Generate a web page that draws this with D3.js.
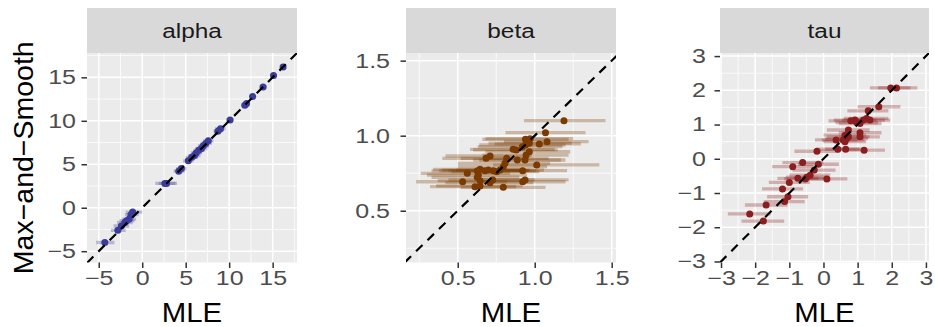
<!DOCTYPE html>
<html>
<head>
<meta charset="utf-8">
<script src="https://cdn.jsdelivr.net/npm/d3@7"></script>
<style>
    body { margin: 0; background: #fff; }
    text { font-family: "Liberation Sans", Arial, sans-serif; }
</style>
</head>
<body>
<svg width="935" height="327"></svg>
<script>
// alpha: MLE, Max-and-Smooth estimate, interval ends
const alphaMle = [-4.3, -2.8, -2.4, -2.0, -1.8, -1.5, -1.3, -1.1, 2.6, 2.8, 4.2, 4.5, 5.3, 5.7, 6.0, 6.2, 6.5, 6.8, 7.0, 7.3, 7.6, 8.7, 9.0, 10.1, 11.8, 12.0, 12.7, 13.9, 15.1, 16.2];
const alphaMs  = [-4.0, -2.6, -2.1, -1.7, -1.5, -1.3, -0.8, -0.5, 2.8, 2.8, 4.2, 4.5, 5.4, 5.8, 6.0, 6.3, 6.6, 6.8, 7.1, 7.4, 7.7, 8.8, 9.1, 10.1, 11.8, 12.0, 12.8, 13.9, 15.2, 16.2];
const alphaLo  = [-5.3, -3.6, -3.3, -2.9, -2.6, -2.3, -2.0, -1.9, 1.5, 1.9, 3.6, 3.9, 4.7, 5.0, 5.3, 5.6, 5.9, 6.1, 6.4, 6.7, 7.0, 8.2, 8.4, 9.7, 11.4, 11.6, 12.3, 13.5, 14.8, 15.9];
const alphaHi  = [-3.2, -1.9, -1.5, -1.1, -0.9, -0.7, -0.4, 0.0, 4.0, 3.8, 4.9, 5.1, 5.9, 6.4, 6.7, 6.9, 7.2, 7.5, 7.7, 8.0, 8.2, 9.2, 9.6, 10.5, 12.2, 12.4, 13.1, 14.3, 15.5, 16.5];

// beta
const betaMle = [1.19, 1.07, 1.08, 1.03, 0.97, 0.94, 0.965, 0.94, 0.92, 0.88, 0.86, 0.965, 0.944, 0.937, 0.887, 1.013, 0.922, 0.818, 0.807, 0.796, 0.71, 0.684, 0.775, 0.753, 0.731, 0.699, 0.677, 0.645, 0.627, 0.562, 0.532, 0.627, 0.612, 0.645, 0.71, 0.727, 0.796, 0.922, 0.937, 0.634, 0.645];
const betaMs  = [1.10, 1.02, 0.96, 0.945, 0.98, 0.976, 0.95, 0.938, 0.927, 0.905, 0.909, 0.893, 0.871, 0.838, 0.838, 0.805, 0.767, 0.849, 0.816, 0.793, 0.865, 0.849, 0.771, 0.76, 0.767, 0.771, 0.767, 0.776, 0.765, 0.749, 0.693, 0.723, 0.66, 0.665, 0.687, 0.705, 0.656, 0.693, 0.705, 0.738, 0.70];
const betaLo  = [0.93, 0.81, 0.80, 0.74, 0.68, 0.66, 0.70, 0.64, 0.63, 0.60, 0.58, 0.68, 0.66, 0.64, 0.60, 0.73, 0.62, 0.52, 0.50, 0.50, 0.42, 0.40, 0.49, 0.46, 0.44, 0.40, 0.38, 0.34, 0.33, 0.26, 0.23, 0.33, 0.32, 0.36, 0.42, 0.44, 0.52, 0.64, 0.66, 0.30, 0.37];
const betaHi  = [1.46, 1.33, 1.35, 1.30, 1.25, 1.22, 1.24, 1.20, 1.18, 1.15, 1.13, 1.23, 1.22, 1.20, 1.17, 1.42, 1.21, 1.09, 1.10, 1.08, 0.98, 0.96, 1.06, 1.03, 1.01, 0.97, 0.96, 0.93, 0.91, 0.84, 0.82, 0.90, 0.88, 0.92, 0.99, 1.00, 1.07, 1.20, 1.22, 0.95, 0.92];

// tau
const tauMle = [1.97, 2.14, 1.62, 1.31, 1.26, 1.36, 1.17, 0.80, 0.92, 0.97, 1.07, 0.73, 1.07, 1.07, 0.63, 0.68, 0.58, 0.63, 0.73, 0.37, 0.42, 0.65, 1.19, -0.19, -0.61, -0.90, -0.15, -0.27, -0.39, -0.49, -0.53, -0.75, 0.10, -1.0, -1.2, -1.04, -1.14, -1.68, -2.16, -1.76];
const tauMs  = [2.07, 2.07, 1.52, 1.40, 1.18, 1.13, 1.13, 1.11, 1.13, 1.06, 1.03, 0.84, 0.76, 0.64, 0.69, 0.59, 0.55, 0.50, 0.64, 0.55, 0.28, 0.28, 0.25, 0.22, -0.11, -0.23, -0.16, -0.33, -0.48, -0.54, -0.59, -0.57, -0.59, -0.69, -0.88, -1.11, -1.25, -1.35, -1.61, -1.82];
const tauLo  = [1.36, 1.60, 1.00, 0.70, 0.60, 0.75, 0.55, 0.15, 0.30, 0.35, 0.45, 0.10, 0.45, 0.45, 0.00, 0.05, -0.05, 0.00, 0.10, -0.25, -0.20, 0.05, 0.55, -0.85, -1.20, -1.50, -0.75, -0.90, -1.00, -1.10, -1.15, -1.35, -0.50, -1.60, -1.80, -1.65, -1.75, -2.30, -2.80, -2.40];
const tauHi  = [2.55, 2.75, 2.25, 1.90, 1.90, 1.95, 1.80, 1.45, 1.55, 1.60, 1.70, 1.35, 1.70, 1.65, 1.25, 1.30, 1.20, 1.25, 1.35, 1.00, 1.05, 1.25, 1.80, 0.45, 0.00, -0.30, 0.45, 0.35, 0.20, 0.10, 0.05, -0.15, 0.70, -0.40, -0.60, -0.45, -0.55, -1.05, -1.55, -1.15];

const alphaTicks = [-5, 0, 5, 10, 15];
const betaTicks = [0.5, 1.0, 1.5];
const tauTicks = [-3, -2, -1, 0, 1, 2, 3];

const zip = (mle, ms, lo, hi) => mle.map((m, i) => ({mle: m, ms: ms[i], lo: lo[i], hi: hi[i]}));

const panels = [
    {label: 'alpha', data: zip(alphaMle, alphaMs, alphaLo, alphaHi), x0: 87, x1: 297, yPad: 5.5,
        xDomain: [-6.35, 17.8], yDomain: [-6.3, 17.8], ticks: alphaTicks, minor: [-2.5, 2.5, 7.5, 12.5, 17.5],
        fmt: d3.format('d'), color: '#3b3b98'},
    {label: 'beta', data: zip(betaMle, betaMs, betaLo, betaHi), x0: 406, x1: 616, yPad: 10.5,
        xDomain: [0.164, 1.528], yDomain: [0.155, 1.551], ticks: betaTicks, minor: [0.25, 0.75, 1.25],
        fmt: d3.format('.1f'), color: '#7a3a00'},
    {label: 'tau', data: zip(tauMle, tauMs, tauLo, tauHi), x0: 720, x1: 929, yPad: 8.5,
        xDomain: [-3.03, 3.09], yDomain: [-3.03, 3.09], ticks: tauTicks, minor: [-2.5, -1.5, -0.5, 0.5, 1.5, 2.5],
        fmt: d3.format('d'), color: '#8b1e1e'}
];

const svg = d3.select('svg');
const panelTop = 53, panelBottom = 262.5, stripTop = 8;
const tickFont = 20, wide = 1.25;   // labels in the source are drawn a bit wider than plain Arial

svg.append('defs').selectAll('clipPath')
    .data(panels)
    .enter().append('clipPath')
    .attr('id', (d, i) => 'clip' + i)
    .append('rect')
    .attr('x', d => d.x0)
    .attr('y', panelTop)
    .attr('width', d => d.x1 - d.x0)
    .attr('height', panelBottom - panelTop);

panels.forEach((p, i) => {
    const x = d3.scaleLinear().domain(p.xDomain).range([p.x0, p.x1]);
    const y = d3.scaleLinear().domain(p.yDomain).range([panelBottom, panelTop]);
    const g = svg.append('g');

    // strip
    g.append('rect')
        .attr('x', p.x0).attr('y', stripTop)
        .attr('width', p.x1 - p.x0).attr('height', panelTop - stripTop)
        .attr('fill', '#d9d9d9');
    g.append('text')
        .attr('transform', `translate(${(p.x0 + p.x1) / 2},38) scale(${wide},1)`)
        .attr('text-anchor', 'middle')
        .attr('font-size', 19.5)
        .attr('fill', '#1a1a1a')
        .text(p.label);

    // panel background + grid
    g.append('rect')
        .attr('x', p.x0).attr('y', panelTop)
        .attr('width', p.x1 - p.x0).attr('height', panelBottom - panelTop)
        .attr('fill', '#ebebeb');

    const minorX = p.minor.filter(v => v > p.xDomain[0] && v < p.xDomain[1]);
    const minorY = p.minor.filter(v => v > p.yDomain[0] && v < p.yDomain[1]);
    const grid = g.append('g').attr('stroke', '#fff');
    grid.selectAll('.mx').data(minorX).enter().append('line')
        .attr('x1', d => x(d)).attr('x2', d => x(d))
        .attr('y1', panelTop).attr('y2', panelBottom)
        .attr('stroke-width', 0.75);
    grid.selectAll('.my').data(minorY).enter().append('line')
        .attr('x1', p.x0).attr('x2', p.x1)
        .attr('y1', d => y(d)).attr('y2', d => y(d))
        .attr('stroke-width', 0.75);
    grid.selectAll('.gx').data(p.ticks).enter().append('line')
        .attr('x1', d => x(d)).attr('x2', d => x(d))
        .attr('y1', panelTop).attr('y2', panelBottom)
        .attr('stroke-width', 1.5);
    grid.selectAll('.gy').data(p.ticks).enter().append('line')
        .attr('x1', p.x0).attr('x2', p.x1)
        .attr('y1', d => y(d)).attr('y2', d => y(d))
        .attr('stroke-width', 1.5);

    const plot = g.append('g').attr('clip-path', 'url(#clip' + i + ')');

    // horizontal intervals
    plot.selectAll('.bar')
        .data(p.data)
        .enter().append('line')
        .attr('x1', d => x(d.lo)).attr('x2', d => x(d.hi))
        .attr('y1', d => y(d.ms)).attr('y2', d => y(d.ms))
        .attr('stroke', p.color)
        .attr('stroke-width', 3.3)
        .attr('stroke-opacity', 0.3);

    // points
    plot.selectAll('circle')
        .data(p.data)
        .enter().append('circle')
        .attr('cx', d => x(d.mle))
        .attr('cy', d => y(d.ms))
        .attr('r', 3.5)
        .attr('fill', p.color);

    // identity line
    const lo = Math.min(p.xDomain[0], p.yDomain[0]), hi = Math.max(p.xDomain[1], p.yDomain[1]);
    plot.append('line')
        .attr('x1', x(lo)).attr('y1', y(lo))
        .attr('x2', x(hi)).attr('y2', y(hi))
        .attr('stroke', '#000')
        .attr('stroke-width', 2.2)
        .attr('stroke-dasharray', '9,7');

    // axes
    const xAxis = g.append('g')
        .attr('transform', `translate(0,${panelBottom})`)
        .call(d3.axisBottom(x).tickValues(p.ticks).tickFormat(p.fmt).tickSize(5.5).tickPadding(3));
    const yAxis = g.append('g')
        .attr('transform', `translate(${p.x0},0)`)
        .call(d3.axisLeft(y).tickValues(p.ticks).tickFormat(p.fmt).tickSize(5.5).tickPadding(p.yPad));
    [xAxis, yAxis].forEach(a => {
        a.select('.domain').remove();
        a.attr('font-size', tickFont).attr('font-family', '"Liberation Sans", Arial, sans-serif');
        a.selectAll('.tick line').attr('stroke', '#333').attr('stroke-width', 1.5);
        a.selectAll('.tick text')
            .attr('fill', '#4d4d4d')
            .attr('transform', `scale(${wide},1)`);
    });
    yAxis.selectAll('.tick text').attr('x', -(5.5 + p.yPad) / wide);

    g.append('text')
        .attr('transform', `translate(${(p.x0 + p.x1) / 2},322) scale(1.05,1)`)
        .attr('text-anchor', 'middle')
        .attr('font-size', 28)
        .attr('fill', '#000')
        .text('MLE');
});

svg.append('text')
    .attr('transform', `translate(33,${(panelTop + panelBottom) / 2}) rotate(-90)`)
    .attr('text-anchor', 'middle')
    .attr('font-size', 28.5)
    .attr('fill', '#000')
    .text('Max\u2212and\u2212Smooth');
</script>
</body>
</html>
